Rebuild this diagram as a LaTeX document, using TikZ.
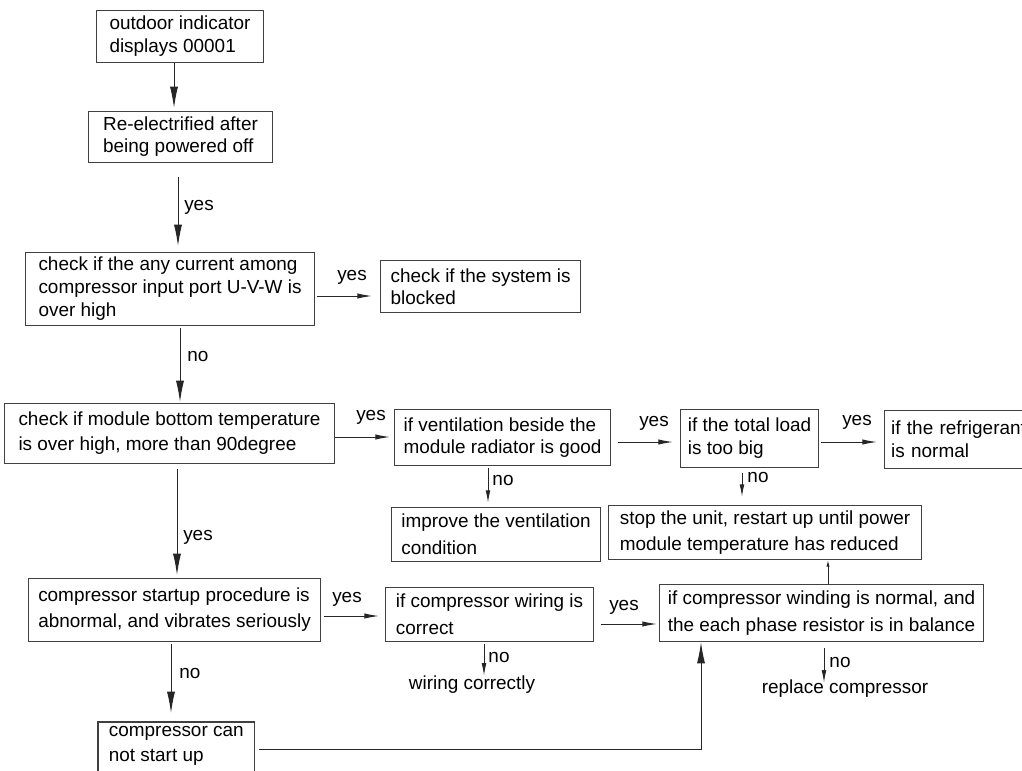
\documentclass[tikz,border=0pt]{standalone}
\usepackage{fontspec}
\setmainfont{Liberation Sans}
\usetikzlibrary{arrows.meta}
\begin{document}
\begin{tikzpicture}[x=0.75pt,y=-0.75pt,
  box/.style={draw=black!75,line width=0.8pt,anchor=north west,align=left,inner sep=0pt},
  fs/.style={font={\fontsize{14.2pt}{#1}\selectfont}},
  lbl/.style={inner sep=0pt,font={\fontsize{14.2pt}{17pt}\selectfont}},
  conn/.style={draw=black!85,line width=0.75pt},
  arrbig/.style={conn,-{Latex[length=16pt,width=6pt]}},
  arrmid/.style={conn,-{Latex[length=11pt,width=4pt]}},
  arrsmall/.style={conn,-{Latex[length=9.5pt,width=3.5pt]}},
  arrtiny/.style={conn,-{Latex[length=5pt,width=2.5pt]}},
]
\useasboundingbox (0,0) rectangle (1022,771);
% boxes
\node[box,fs=17.25pt,minimum width=125.25pt,minimum height=39pt] (n1) at (96,10) {outdoor indicator\\displays 00001};
\node[box,fs=16.5pt,minimum width=138pt,minimum height=38.25pt] (n2) at (88,111) {Re-electrified after\\being powered off};
\node[box,fs=17.25pt,minimum width=216.75pt,minimum height=54.75pt] (n3) at (25,252) {check if the any current among\\compressor input port U-V-W is\\over high};
\node[box,fs=16.5pt,minimum width=150pt,minimum height=39pt] (n4) at (380,260) {check if the system is\\blocked};
\node[box,fs=18.75pt,minimum width=247.5pt,minimum height=45pt] (n5) at (4,403) {check if module bottom temperature\\is over high, more than 90degree};
\node[box,fs=16.5pt,minimum width=162pt,minimum height=42pt] (n6) at (394,409) {if ventilation beside the\\module radiator is good};
\node[box,fs=17.25pt,minimum width=103.5pt,minimum height=43.5pt] (n7) at (680,409) {if the total load\\is too big};
\node[box,fs=17.25pt,minimum width=150pt,minimum height=43.5pt,text width=140pt,inner xsep=4.5pt] (n8) at (884,410) {if the refrigerant\\is normal};
\node[box,fs=20.25pt,minimum width=156.75pt,minimum height=40.5pt] (n9) at (391,507) {improve the ventilation\\condition};
\node[box,fs=19.5pt,minimum width=234.75pt,minimum height=40.5pt] (n10) at (608,505) {stop the unit, restart up until power\\module temperature has reduced};
\node[box,fs=19.5pt,minimum width=219pt,minimum height=47.25pt] (n11) at (28,578) {compressor startup procedure is\\abnormal, and vibrates seriously};
\node[box,fs=20.25pt,minimum width=156pt,minimum height=40.5pt] (n12) at (385,587) {if compressor wiring is\\correct};
\node[box,fs=20.25pt,minimum width=243pt,minimum height=42.75pt] (n13) at (659,584) {if compressor winding is normal, and\\the each phase resistor is in balance};
\node[fs=18.75pt,anchor=north west,align=left,inner sep=0pt,minimum width=117pt,minimum height=35.25pt] (n14) at (98,722) {compressor can\\not start up};
\draw[draw=black!75,line width=0.8pt] ([yshift=-30pt]n14.south west) -- (n14.north west) -- (n14.north east) -- ([yshift=-30pt]n14.south east);
% free texts
\node[lbl] (wc) at (472,685) {wiring correctly};
\node[lbl] (rc) at (845,689) {replace compressor};
% labels
\node[lbl] (l2) at (199,207) {yes};
\node[lbl] (l3) at (352,277) {yes};
\node[lbl] (l4) at (198,356) {no};
\node[lbl] (l5) at (371,417) {yes};
\node[lbl] (l6) at (198,537) {yes};
\node[lbl] (l7) at (654,423) {yes};
\node[lbl] (l8) at (857,422) {yes};
\node[lbl] (l9) at (503,480) {no};
\node[lbl] (l10) at (758,477) {no};
\node[lbl] (l11) at (347,599) {yes};
\node[lbl] (l12) at (190,673) {no};
\node[lbl] (l13) at (624,607) {yes};
\node[lbl] (l15) at (499,657) {no};
\node[lbl] (l16) at (840,662) {no};
% connectors
\draw[arrbig,shorten >=2.25pt] (n1.south -| 174,0) -- (n2.north -| 174,0);
\draw[arrbig,shorten <=10.5pt,shorten >=4.5pt] (n2.south -| 178,0) -- (n3.north -| 178,0);
\draw[arrmid,shorten <=1.5pt,shorten >=6pt] (n3.east |- 0,296) -- (n4.west |- 0,296);
\draw[arrbig,shorten <=1.5pt,shorten >=0.75pt] (n3.south -| 180,0) -- (n5.north -| 180,0);
\draw[arrmid,shorten >=3pt] (n5.east |- 0,437) -- (n6.west |- 0,437);
\draw[arrbig,shorten <=3.75pt,shorten >=2.25pt] (n5.south -| 177,0) -- (n11.north -| 177,0);
\draw[arrmid,shorten <=5.25pt,shorten >=5.25pt] (n6.east |- 0,442) -- (n7.west |- 0,442);
\draw[arrmid,shorten <=1.5pt,shorten >=5.25pt] (n7.east |- 0,442) -- (n8.west |- 0,442);
\draw[arrsmall,shorten <=1.5pt,shorten >=3pt] (n6.south -| 488,0) -- (n9.north -| 488,0);
\draw[arrsmall,shorten <=3.75pt,shorten >=6pt] (n7.south -| 742,0) -- (n10.north -| 742,0);
\draw[arrmid,shorten <=2.25pt,shorten >=4.5pt] (n11.east |- 0,616) -- (n12.west |- 0,616);
\draw[arrbig,shorten <=1.5pt,shorten >=6.75pt] (n11.south -| 171,0) -- (n14.north -| 171,0);
\draw[arrmid,shorten <=5.25pt,shorten >=1.5pt] (n12.east |- 0,624) -- (n13.west |- 0,624);
\draw[arrtiny] (n13.north -| 828,0) -- (n10.south -| 828,0);
\draw[arrsmall,shorten <=1.5pt] (n12.south -| 484,0) -- (wc.north -| 484,0);
\draw[arrsmall,shorten <=4.5pt,shorten >=-2.25pt] (n13.south -| 824,0) -- (rc.north -| 824,0);
\draw[arrbig,shorten <=3pt] (n14.east |- 0,749) -| (n13.south -| 701,0);
\end{tikzpicture}
\end{document}
